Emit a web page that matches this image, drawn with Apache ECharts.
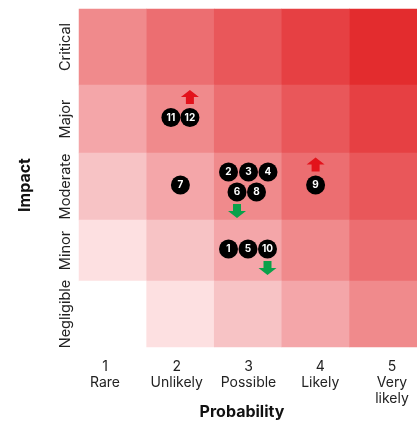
<!DOCTYPE html>
<html><head><meta charset="utf-8">
<script src="https://cdn.jsdelivr.net/npm/echarts@6/dist/echarts.min.js"></script>
<style>html,body{margin:0;padding:0;background:#fff}#c{width:417px;height:421px}</style>
</head><body><div id="c"></div>
<script>
// ---- data ----
const probLabels = ['1\nRare', '2\nUnlikely', '3\nPossible', '4\nLikely', '5\nVery\nlikely'];
const impactLabels = ['Critical', 'Major', 'Moderate', 'Minor', 'Negligible']; // top to bottom
const levelCritical = [4, 5, 6, 7, 8];
const levelMajor = [3, 4, 5, 6, 7];
const levelModerate = [2, 3, 4, 5, 6];
const levelMinor = [1, 2, 3, 4, 5];
const levelNegligible = [0, 1, 2, 3, 4];
const levelColors = ['#ffffff', '#fde0e1', '#f7c3c5', '#f4a6a9', '#f08a8c', '#ec6e71', '#e9575a', '#e64043', '#e32c2e'];
const riskIds = [1, 2, 3, 4, 5, 6, 7, 8, 9, 10, 11, 12];
const riskProb = [3, 3, 3, 3, 3, 3, 2, 3, 4, 3, 2, 2];
const riskImpact = ['Minor', 'Moderate', 'Moderate', 'Moderate', 'Minor', 'Moderate', 'Moderate', 'Moderate', 'Moderate', 'Minor', 'Major', 'Major'];
const riskTrend = ['', '', '', '', '', 'down', '', '', 'up', 'down', '', 'up'];

// ---- layout ----
const FONT = 'Inter';
const rowTops = [9, 85, 153, 220, 281];
const rowHeights = [76, 68, 67, 61, 66];
const levelRows = [levelCritical, levelMajor, levelModerate, levelMinor, levelNegligible];
const UP = 'path://M9,0 L18,7 L13,7 L13,14 L5,14 L5,7 L0,7 Z';
const DOWN = 'path://M5,0 L13,0 L13,7 L18,7 L9,14 L0,7 L5,7 Z';

function clusterOffsets(n) {
  if (n === 1) return [[0, -1.5]];
  if (n === 2) return [[-9.5, -1.5], [9.5, -1.5]];
  if (n === 3) return [[-19.5, -1.5], [0, -1.5], [19.5, -1.5]];
  if (n === 5) return [[-19.5, -14.5], [0.5, -14.5], [20, -14.5], [-11, 5.5], [8.5, 5.5]];
  const out = [];
  for (let i = 0; i < n; i++) out.push([(i - (n - 1) / 2) * 19.5, -1.5]);
  return out;
}

const grids = [], xAxes = [], yAxes = [], series = [], heatIdx = [];
impactLabels.forEach((imp, r) => {
  grids.push({ left: 79, right: 0, top: rowTops[r], height: rowHeights[r] });
  xAxes.push({
    type: 'category', gridIndex: r, data: probLabels,
    axisLine: { show: false }, axisTick: { show: false }, splitLine: { show: false },
    axisLabel: { show: false }
  });
  yAxes.push({
    type: 'category', gridIndex: r, data: [imp],
    axisLine: { show: false }, axisTick: { show: false }, splitLine: { show: false },
    axisLabel: { rotate: 90, fontFamily: FONT, fontSize: 14.5, color: '#222', margin: 6 }
  });
  heatIdx.push(series.length);
  series.push({
    type: 'heatmap', xAxisIndex: r, yAxisIndex: r, silent: true,
    data: levelRows[r].map((lv, c) => [c, 0, lv])
  });
  const cells = {};
  riskIds.forEach((id, k) => {
    if (riskImpact[k] !== imp) return;
    (cells[riskProb[k]] = cells[riskProb[k]] || []).push(k);
  });
  const marks = [], arrowsUp = [], arrowsDown = [];
  Object.keys(cells).forEach(p => {
    const list = cells[p];
    const offs = clusterOffsets(list.length);
    list.forEach((k, j) => {
      const o = offs[j];
      marks.push({ value: [riskProb[k] - 1, 0], symbolOffset: o, name: String(riskIds[k]) });
      if (riskTrend[k] === 'up') arrowsUp.push({ value: [riskProb[k] - 1, 0], symbolOffset: [o[0], o[1] - 20.5] });
      if (riskTrend[k] === 'down') arrowsDown.push({ value: [riskProb[k] - 1, 0], symbolOffset: [o[0], o[1] + 19] });
    });
  });
  if (marks.length) {
    series.push({
      type: 'scatter', xAxisIndex: r, yAxisIndex: r, symbol: 'circle', symbolSize: 19, silent: true, z: 5,
      itemStyle: { color: '#000', opacity: 1 },
      label: { show: true, position: 'inside', formatter: p => p.name, color: '#fff', fontFamily: FONT, fontWeight: 'bold', fontSize: 10 },
      data: marks
    });
  }
  if (arrowsUp.length) series.push({ type: 'scatter', xAxisIndex: r, yAxisIndex: r, symbol: UP, symbolSize: [18, 14], silent: true, z: 4, itemStyle: { color: '#e3121b', opacity: 1 }, data: arrowsUp });
  if (arrowsDown.length) series.push({ type: 'scatter', xAxisIndex: r, yAxisIndex: r, symbol: DOWN, symbolSize: [18, 14], silent: true, z: 4, itemStyle: { color: '#0aa14a', opacity: 1 }, data: arrowsDown });
});

// label-only axis under the matrix (labels sit on the axis points)
const labelGrid = grids.length;
grids.push({ left: 105, right: 25, top: 281, height: 66 });
xAxes.push({
  type: 'category', gridIndex: labelGrid, data: probLabels, boundaryGap: false,
  axisLine: { show: false }, axisTick: { show: false }, splitLine: { show: false },
  axisLabel: { interval: 0, hideOverlap: false, fontFamily: FONT, fontSize: 14, lineHeight: 16, color: '#222', margin: 12 }
});
yAxes.push({ type: 'value', gridIndex: labelGrid, show: false });

const chart = echarts.init(document.getElementById('c'), null, { renderer: 'canvas' });
chart.setOption({
  animation: false,
  backgroundColor: '#fff',
  grid: grids, xAxis: xAxes, yAxis: yAxes,
  visualMap: {
    type: 'piecewise', show: false, seriesIndex: heatIdx, dimension: 2,
    pieces: levelColors.map((c, i) => ({ value: i, color: c }))
  },
  graphic: [
    { type: 'text', x: 25, y: 185, rotation: Math.PI / 2, style: { text: 'Impact', font: 'bold 16px ' + FONT, fill: '#111', align: 'center', verticalAlign: 'middle' } },
    { type: 'text', x: 242, y: 412, style: { text: 'Probability', font: 'bold 16px ' + FONT, fill: '#111', align: 'center', verticalAlign: 'middle' } }
  ],
  series: series
});
</script></body></html>
